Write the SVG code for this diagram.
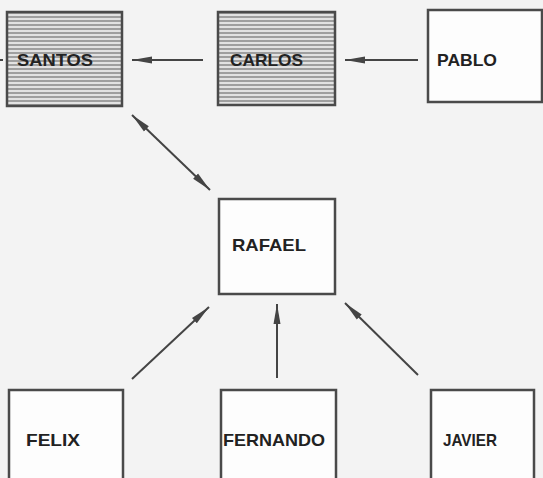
<svg xmlns="http://www.w3.org/2000/svg" width="543" height="478" viewBox="0 0 543 478">
<defs>
<pattern id="hatch" width="8" height="4" patternUnits="userSpaceOnUse">
<rect width="8" height="4" fill="#e2e2e2"/>
<line x1="0" y1="1" x2="8" y2="1" stroke="#7a7a7a" stroke-width="1.3"/>
</pattern>
<marker id="ah" viewBox="0 0 20 10" refX="20" refY="5" markerWidth="20" markerHeight="10" markerUnits="userSpaceOnUse" orient="auto-start-reverse">
<path d="M0,1.5 L20,5 L0,8.5 Z" fill="#444"/>
</marker>
</defs>
<style>
.box{fill:#fdfdfd;stroke:#4a4a4a;stroke-width:2.5}
.hbox{fill:url(#hatch);stroke:#4a4a4a;stroke-width:2.5}
.lbl{font-family:"Liberation Sans","DejaVu Sans",sans-serif;font-weight:bold;font-size:17px;fill:#222}
.con{stroke:#444;stroke-width:2;fill:none}
</style>
<rect width="543" height="478" fill="#f3f3f3"/>
<g id="connectors">
<line class="con" x1="0" y1="60" x2="3" y2="60"/>
<line class="con" x1="203" y1="60" x2="132" y2="60" marker-end="url(#ah)"/>
<line class="con" x1="418" y1="60" x2="345" y2="60" marker-end="url(#ah)"/>
<line class="con" x1="132" y1="115" x2="210" y2="190" marker-start="url(#ah)" marker-end="url(#ah)"/>
<line class="con" x1="132" y1="379" x2="209" y2="307" marker-end="url(#ah)"/>
<line class="con" x1="277" y1="378" x2="277" y2="304" marker-end="url(#ah)"/>
<line class="con" x1="418" y1="375" x2="345" y2="303" marker-end="url(#ah)"/>
</g>
<g id="santos">
<rect class="hbox" x="7" y="12" width="115" height="94"/>
<text class="lbl" x="17" y="66" textLength="76" lengthAdjust="spacingAndGlyphs">SANTOS</text>
</g>
<g id="carlos">
<rect class="hbox" x="218" y="12" width="117" height="93"/>
<text class="lbl" x="230" y="66" textLength="73" lengthAdjust="spacingAndGlyphs">CARLOS</text>
</g>
<g id="pablo">
<rect class="box" x="428" y="10" width="114" height="92"/>
<text class="lbl" x="437" y="66" textLength="60" lengthAdjust="spacingAndGlyphs">PABLO</text>
</g>
<g id="rafael">
<rect class="box" x="219" y="199" width="116" height="95"/>
<text class="lbl" x="232" y="251" textLength="74" lengthAdjust="spacingAndGlyphs">RAFAEL</text>
</g>
<g id="felix">
<rect class="box" x="9" y="390" width="114" height="100"/>
<text class="lbl" x="26" y="446" textLength="54" lengthAdjust="spacingAndGlyphs">FELIX</text>
</g>
<g id="fernando">
<rect class="box" x="221" y="390" width="115" height="100"/>
<text class="lbl" x="223" y="446" textLength="102" lengthAdjust="spacingAndGlyphs">FERNANDO</text>
</g>
<g id="javier">
<rect class="box" x="431" y="390" width="103" height="100"/>
<text class="lbl" x="443" y="446" textLength="54" lengthAdjust="spacingAndGlyphs">JAVIER</text>
</g>
</svg>
